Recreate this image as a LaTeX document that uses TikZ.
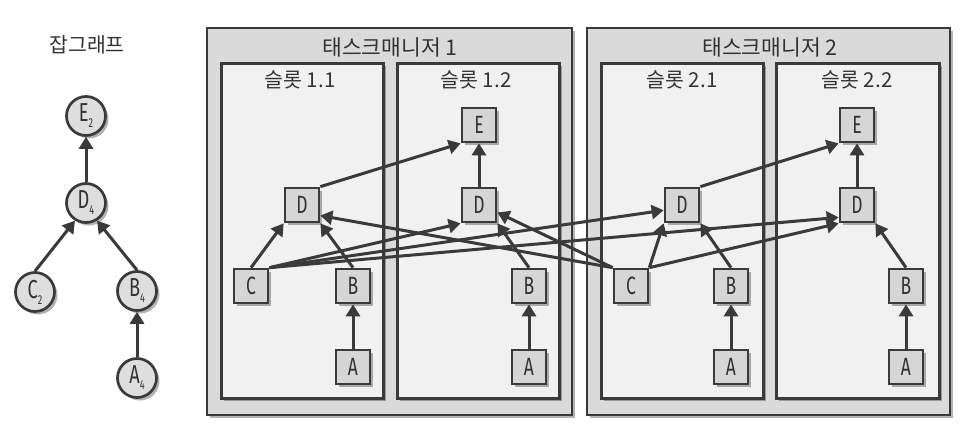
\documentclass[tikz,border=0pt]{standalone}
\usepackage{fontspec}
\setmainfont{Noto Sans CJK KR}
\newfontfamily\kr{Noto Sans CJK KR}
\newfontfamily\lbl[FakeStretch=0.7]{Fira Sans}
\usetikzlibrary{shadows,arrows.meta}
\definecolor{tmfill}{HTML}{DADADA}
\definecolor{slotfill}{HTML}{F1F1F1}
\definecolor{boxfill}{HTML}{D6D6D6}
\definecolor{circfill}{HTML}{DEDEDE}
\definecolor{edgec}{HTML}{3A3A3A}
\definecolor{txt}{HTML}{333333}
\newcommand{\sub}[2]{#1\raisebox{-6pt}{\fontsize{13}{13}\selectfont #2}}
\begin{document}
\begin{tikzpicture}[x=1pt,y=-1pt,
  shad/.style={drop shadow={shadow xshift=3pt,shadow yshift=-3pt,opacity=0.3,fill=black}},
  tm/.style={draw=edgec,line width=2.5pt,fill=tmfill,shad},
  slot/.style={draw=edgec,line width=3pt,fill=slotfill,shad},
  op/.style={draw=edgec,line width=2.7pt,fill=boxfill,minimum size=34pt,inner sep=0pt,
    font=\lbl\fontsize{25}{25}\selectfont,text=txt,shad},
  jv/.style={circle,draw=edgec,line width=2.7pt,fill=circfill,minimum size=39pt,inner sep=0pt,
    font=\lbl\fontsize{26}{26}\selectfont,text=txt,shad},
  arr/.style={draw=edgec,line width=3pt,-{Triangle[length=12pt,width=14pt]}},
  ttl/.style={font=\kr\fontsize{20.5}{20.5}\selectfont,text=txt,inner sep=0pt},
  tttl/.style={font=\kr\fontsize{21.5}{21.5}\selectfont,text=txt,inner sep=0pt}
]
\fill[white] (0,0) rectangle (974,434);
\useasboundingbox (0,0) rectangle (974,434);

% job graph
\node[ttl] (jg) at (87,45) {잡그래프};
\node[jv] (E) at (86,116) {\sub{E}{2}};
\node[jv] (D) at (86,203) {\sub{D}{4}};
\node[jv] (C) at (35,292) {\sub{C}{2}};
\node[jv] (B) at (137,291) {\sub{B}{4}};
\node[jv] (A) at (137,378) {\sub{A}{4}};
\draw[arr] (D) -- (E);
\draw[arr] (C.north) -- (D.238);
\draw[arr] (B.north) -- (D.302);
\draw[arr] (A) -- (B);

% task managers
\path[tm] (207,28) rectangle (572,415);
\path[tm] (587,28) rectangle (950,415);
\node[tttl] (tm1) at (390,47) {태스크매니저 1};
\node[tttl] (tm2) at (770,47) {태스크매니저 2};
\path[slot] (221,63) rectangle (383,398);
\path[slot] (397,63) rectangle (559,398);
\path[slot] (601,63) rectangle (763,398);
\path[slot] (776,63) rectangle (939,398);
\node[ttl] (s11) at (300,80) {슬롯 1.1};
\node[ttl] (s12) at (476,80) {슬롯 1.2};
\node[ttl] (s21) at (682,80) {슬롯 2.1};
\node[ttl] (s22) at (857,80) {슬롯 2.2};

% slot 1.1
\node[op] (D11) at (302,205) {D};
\node[op] (C11) at (251,286) {C};
\node[op] (B11) at (353,286) {B};
\node[op] (A11) at (353,367) {A};
% slot 1.2
\node[op] (E12) at (479,125) {E};
\node[op] (D12) at (479,205) {D};
\node[op] (B12) at (529,286) {B};
\node[op] (A12) at (529,367) {A};
% slot 2.1
\node[op] (D21) at (682,205) {D};
\node[op] (C21) at (631,286) {C};
\node[op] (B21) at (731,286) {B};
\node[op] (A21) at (731,367) {A};
% slot 2.2
\node[op] (E22) at (857,125) {E};
\node[op] (D22) at (857,205) {D};
\node[op] (B22) at (906,286) {B};
\node[op] (A22) at (906,367) {A};

% edges
\draw[arr] (A11) -- (B11);
\draw[arr] (A12) -- (B12);
\draw[arr] (A21) -- (B21);
\draw[arr] (A22) -- (B22);
\draw[arr] (D12) -- (E12);
\draw[arr] (D22) -- (E22);
\draw[arr] (B11.north) -- (D11.south east);
\draw[arr] (B12.north) -- (D12.south east);
\draw[arr] (B21.north) -- (D21.south east);
\draw[arr] (B22.north) -- (D22.south east);
\draw[arr] (D11.north east) -- (E12.south west);
\draw[arr] (D21.north east) -- (E22.south west);
\draw[arr] (C11.north) -- (D11.south west);
\draw[arr] (C11.north east) -- (D12.south west);
\draw[arr] (C11.north east) -- (D21.196);
\draw[arr] (C11.north east) -- (D22.214);
\draw[arr] (C21.north west) -- (D11.330);
\draw[arr] (C21.north west) -- (D12.338);
\draw[arr] (C21.north east) -- (D21.south west);
\draw[arr] (C21.north east) -- (D22.south west);
\end{tikzpicture}
\end{document}
